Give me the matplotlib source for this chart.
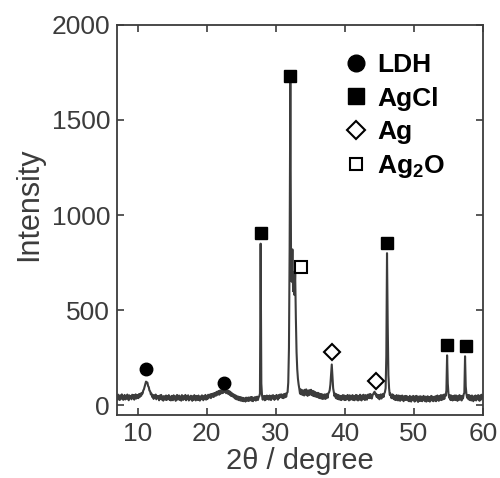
import numpy as np
import matplotlib
matplotlib.use("Agg")
import matplotlib.pyplot as plt
from matplotlib.lines import Line2D

plt.rcParams["font.family"] = ["Liberation Sans", "DejaVu Sans"]
plt.rcParams["mathtext.fontset"] = "custom"
plt.rcParams["mathtext.rm"] = "Liberation Sans"
plt.rcParams["mathtext.bf"] = "Liberation Sans:bold"

# --- XRD pattern, 0.1 degree steps from 7.0 to 60.0 ---
two_theta_start = 7.0
intensity_rows = [
    [50, 30, 56, 38, 28, 52, 34, 58, 44, 29],        # 7
    [47, 55, 31, 50, 36, 57, 40, 27, 53, 38],        # 8
    [49, 32, 56, 41, 54, 30, 48, 58, 36, 45],        # 9
    [55, 38, 60, 44, 62, 50, 66, 62, 78, 85],        # 10
    [98, 110, 125, 118, 120, 102, 96, 78, 74, 58],   # 11
    [62, 44, 55, 34, 52, 40, 57, 32, 50, 38],        # 12
    [48, 27, 52, 35, 55, 30, 46, 25, 49, 44],        # 13
    [30, 52, 28, 47, 36, 54, 29, 45, 26, 50],        # 14
    [42, 27, 53, 33, 48, 24, 46, 55, 30, 41],        # 15
    [52, 28, 46, 25, 54, 37, 29, 50, 33, 55],        # 16
    [27, 48, 34, 53, 26, 45, 31, 51, 38, 24],        # 17
    [49, 30, 54, 35, 26, 50, 40, 28, 52, 33],        # 18
    [25, 47, 32, 53, 39, 27, 50, 34, 55, 30],        # 19
    [48, 33, 56, 40, 52, 58, 38, 60, 46, 62],        # 20
    [44, 65, 50, 68, 52, 72, 58, 75, 56, 78],        # 21
    [62, 80, 64, 84, 66, 82, 70, 86, 64, 76],        # 22
    [80, 60, 76, 56, 72, 50, 66, 48, 60, 42],        # 23
    [56, 36, 52, 32, 48, 30, 46, 27, 44, 25],        # 24
    [42, 24, 40, 22, 38, 33, 20, 41, 26, 40],        # 25
    [23, 42, 25, 39, 44, 24, 43, 22, 40, 30],        # 26
    [44, 25, 40, 46, 28, 42, 48, 62, 850, 115],      # 27
    [52, 30, 44, 50, 27, 48, 31, 52, 33, 49],        # 28
    [30, 52, 40, 28, 51, 36, 54, 42, 29, 50],        # 29
    [36, 55, 42, 30, 54, 38, 57, 44, 58, 40],        # 30
    [56, 38, 60, 42, 62, 45, 64, 70, 120, 300],      # 31
    [830, 1700, 790, 650, 820, 600, 700, 580, 690, 460],  # 32
    [280, 190, 140, 110, 88, 62, 84, 58, 80, 55],    # 33
    [78, 52, 82, 57, 84, 60, 50, 78, 54, 80],        # 34
    [58, 82, 54, 76, 50, 74, 48, 70, 46, 66],        # 35
    [44, 66, 40, 62, 38, 60, 36, 58, 34, 56],        # 36
    [36, 58, 34, 56, 60, 40, 64, 68, 80, 110],       # 37
    [160, 215, 150, 90, 70, 48, 62, 38, 58, 34],     # 38
    [55, 32, 52, 30, 50, 28, 49, 54, 31, 52],        # 39
    [28, 50, 30, 48, 55, 32, 26, 53, 30, 50],        # 40
    [32, 54, 28, 50, 27, 46, 55, 30, 52, 26],        # 41
    [50, 30, 56, 34, 26, 52, 32, 56, 38, 28],        # 42
    [54, 34, 30, 56, 40, 58, 38, 60, 42, 36],        # 43
    [52, 60, 66, 72, 58, 62, 44, 56, 38, 54],        # 44
    [32, 52, 58, 36, 54, 60, 44, 62, 70, 90],        # 45
    [260, 800, 430, 160, 90, 55, 62, 40, 38, 58],    # 46
    [36, 52, 30, 50, 28, 54, 34, 26, 52, 32],        # 47
    [24, 50, 30, 52, 36, 22, 48, 28, 50, 30],        # 48
    [48, 26, 44, 22, 50, 32, 20, 46, 28, 50],        # 49
    [30, 20, 48, 26, 50, 28, 18, 46, 24, 48],        # 50
    [24, 46, 22, 44, 50, 28, 22, 46, 20, 44],        # 51
    [48, 24, 44, 20, 42, 50, 26, 46, 22, 44],        # 52
    [26, 48, 22, 44, 52, 28, 24, 50, 30, 54],        # 53
    [28, 52, 32, 56, 34, 58, 50, 80, 263, 115],      # 54
    [62, 40, 54, 28, 52, 32, 26, 50, 30, 52],        # 55
    [28, 52, 30, 24, 50, 28, 54, 32, 48, 26],        # 56
    [50, 36, 58, 66, 258, 100, 60, 40, 54, 32],      # 57
    [54, 28, 50, 26, 52, 34, 22, 48, 30, 52],        # 58
    [26, 50, 32, 54, 30, 24, 52, 30, 56, 36],        # 59
    [42],                                            # 60
]

# --- phase markers ---
ldh_x = [11.2, 22.5]
ldh_y = [190, 120]
agcl_x = [27.8, 32.1, 46.1, 54.8, 57.5]
agcl_y = [905, 1730, 855, 320, 310]
ag_x = [38.2, 44.5]
ag_y = [280, 130]
ag2o_x = [33.6]
ag2o_y = [725]

intensity = np.concatenate([np.array(r, dtype=float) for r in intensity_rows])
two_theta = two_theta_start + 0.1 * np.arange(len(intensity))

fig = plt.figure(figsize=(5.0, 4.78), dpi=100)
ax = fig.add_axes([0.234, 0.132, 0.732, 0.816])

ink = "#3c3c3c"
ax.plot(two_theta, intensity, color=ink, lw=1.5)

ax.plot(ldh_x, ldh_y, "o", color="black", ms=9, ls="none")
ax.plot(agcl_x, agcl_y, "s", color="black", ms=8, ls="none")
ax.plot(ag_x, ag_y, "D", mfc="white", mec="black", mew=1.5, ms=8, ls="none")
ax.plot(ag2o_x, ag2o_y, "s", mfc="white", mec="black", mew=1.5, ms=8, ls="none")

ax.set_xlim(7, 60)
ax.set_ylim(-50, 2000)
ax.set_xticks([10, 20, 30, 40, 50, 60])
ax.set_yticks([0, 500, 1000, 1500, 2000])
ax.tick_params(direction="in", length=5, width=1.2, top=True, right=True,
               labelsize=19, colors=ink, pad=5)
for s in ax.spines.values():
    s.set_color(ink)
    s.set_linewidth(1.3)

ax.set_xlabel("2θ / degree", fontsize=21, color=ink, labelpad=1)
ax.set_ylabel("Intensity", fontsize=22, color=ink)
ax.yaxis.set_label_coords(-0.2, 0.54)

# --- legend ---
handles = [
    Line2D([], [], marker="o", color="black", ls="none", ms=12),
    Line2D([], [], marker="s", color="black", ls="none", ms=11),
    Line2D([], [], marker="D", mfc="white", mec="black", mew=1.5, ls="none", ms=9),
    Line2D([], [], marker="s", mfc="white", mec="black", mew=1.5, ls="none", ms=9),
]
labels = ["LDH", "AgCl", "Ag", r"Ag$_\mathbf{2}$O"]
ax.legend(handles, labels, loc="upper left", bbox_to_anchor=(0.591, 0.954),
          frameon=False, prop={"weight": "bold", "size": 19},
          handlelength=0.9, handletextpad=0.35, labelspacing=0.35,
          borderaxespad=0)

fig.savefig("out.png", dpi=100)
